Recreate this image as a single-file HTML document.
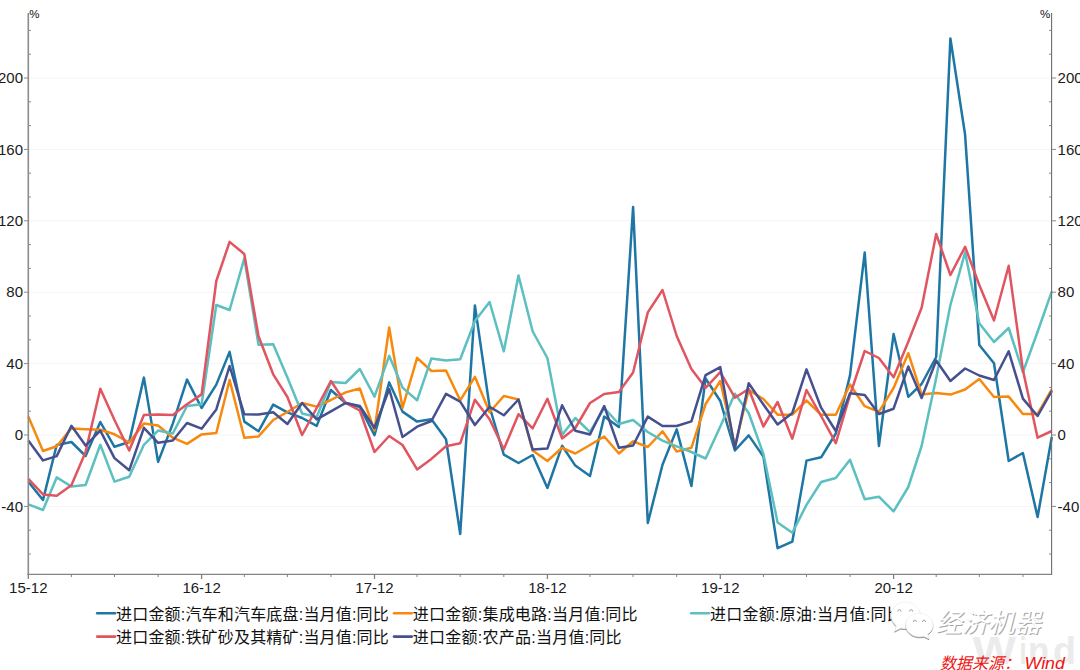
<!DOCTYPE html>
<html lang="zh"><head><meta charset="utf-8"><title>进口金额 当月值 同比</title>
<style>html,body{margin:0;padding:0;background:#fff}body{width:1080px;height:670px;overflow:hidden}svg{display:block}.n{font-family:"Liberation Sans",sans-serif;font-size:15px;fill:#1a1a1a}.p{font-family:"Liberation Sans",sans-serif;font-size:11.5px;fill:#111}.lg{font-family:"Liberation Sans","Noto Sans CJK SC",sans-serif;font-size:16px;fill:#111}.ln{fill:none;stroke-width:2.5;stroke-linejoin:round;stroke-linecap:butt}</style></head><body>
<svg width="1080" height="670" viewBox="0 0 1080 670">
<rect width="1080" height="670" fill="#fff"/>
<line x1="29" x2="1051" y1="78.0" y2="78.0" stroke="#f4f4f4" stroke-width="1"/>
<line x1="29" x2="1051" y1="149.4" y2="149.4" stroke="#f4f4f4" stroke-width="1"/>
<line x1="29" x2="1051" y1="220.8" y2="220.8" stroke="#f4f4f4" stroke-width="1"/>
<line x1="29" x2="1051" y1="292.2" y2="292.2" stroke="#f4f4f4" stroke-width="1"/>
<line x1="29" x2="1051" y1="363.6" y2="363.6" stroke="#f4f4f4" stroke-width="1"/>
<line x1="29" x2="1051" y1="435.0" y2="435.0" stroke="#f4f4f4" stroke-width="1"/>
<line x1="29" x2="1051" y1="506.4" y2="506.4" stroke="#f4f4f4" stroke-width="1"/>
<path class="ln" stroke="#1e76a4" d="M28.3 481.7 L43.0 500.0 L56.7 444.9 L71.4 442.0 L85.6 456.0 L100.3 422.0 L114.5 446.8 L129.2 442.0 L143.9 377.6 L158.1 461.9 L172.8 423.6 L187.0 379.6 L201.6 408.0 L216.3 384.6 L229.6 351.9 L244.3 421.6 L258.5 431.3 L273.2 404.6 L287.4 412.3 L302.1 418.0 L316.7 425.9 L330.9 390.0 L345.6 403.0 L359.8 407.0 L374.5 435.2 L389.2 382.4 L402.5 411.6 L417.1 421.6 L431.4 419.3 L446.0 439.3 L460.2 534.0 L474.9 305.4 L489.6 407.0 L503.8 454.6 L518.5 463.0 L532.7 455.0 L547.4 488.0 L562.1 445.8 L575.3 465.6 L590.0 476.0 L604.2 416.6 L618.9 427.0 L633.1 207.0 L647.8 523.0 L662.5 464.8 L676.7 429.4 L691.4 486.0 L705.6 378.5 L720.3 401.0 L734.9 450.5 L748.7 435.4 L763.4 456.6 L777.6 548.2 L792.3 541.7 L806.5 460.6 L821.1 457.3 L835.8 433.5 L850.0 375.4 L864.7 252.6 L878.9 446.0 L893.6 334.0 L908.3 396.8 L921.6 384.0 L936.2 357.0 L950.4 38.4 L965.1 134.8 L979.3 345.0 L994.0 363.2 L1008.7 461.0 L1022.9 453.0 L1037.6 517.0 L1051.8 437.0"/>
<path class="ln" stroke="#f7890f" d="M28.3 416.5 L43.0 451.0 L56.7 446.2 L71.4 428.4 L85.6 429.2 L100.3 429.8 L114.5 434.3 L129.2 442.5 L143.9 423.5 L158.1 425.5 L172.8 437.7 L187.0 443.9 L201.6 434.4 L216.3 433.0 L229.6 380.0 L244.3 437.8 L258.5 436.4 L273.2 420.0 L287.4 412.0 L302.1 403.0 L316.7 406.6 L330.9 400.0 L345.6 392.4 L359.8 388.5 L374.5 430.3 L389.2 327.5 L402.5 408.0 L417.1 357.8 L431.4 371.0 L446.0 370.5 L460.2 400.3 L474.9 376.8 L489.6 412.2 L503.8 396.0 L518.5 399.5 L532.7 450.6 L547.4 461.0 L562.1 447.8 L575.3 453.5 L590.0 445.0 L604.2 436.5 L618.9 453.5 L633.1 441.3 L647.8 447.0 L662.5 431.3 L676.7 451.5 L691.4 447.8 L705.6 404.0 L720.3 381.0 L734.9 446.0 L748.7 390.0 L763.4 399.0 L777.6 414.7 L792.3 414.7 L806.5 400.5 L821.1 414.8 L835.8 414.7 L850.0 384.5 L864.7 406.2 L878.9 411.8 L893.6 388.0 L908.3 353.2 L921.6 394.4 L936.2 393.0 L950.4 394.6 L965.1 389.5 L979.3 379.0 L994.0 397.0 L1008.7 396.6 L1022.9 414.0 L1037.6 414.0 L1051.8 389.5"/>
<path class="ln" stroke="#5cbfc0" d="M28.3 504.3 L43.0 510.0 L56.7 477.4 L71.4 486.5 L85.6 485.0 L100.3 444.8 L114.5 481.6 L129.2 476.8 L143.9 444.8 L158.1 430.6 L172.8 433.5 L187.0 406.0 L201.6 404.3 L216.3 305.0 L229.6 310.0 L244.3 258.3 L258.5 344.8 L273.2 344.2 L287.4 377.4 L302.1 413.5 L316.7 417.0 L330.9 382.0 L345.6 383.0 L359.8 369.0 L374.5 396.6 L389.2 355.8 L402.5 387.6 L417.1 400.3 L431.4 358.4 L446.0 360.6 L460.2 359.2 L474.9 321.0 L489.6 302.0 L503.8 351.3 L518.5 275.6 L532.7 331.5 L547.4 358.0 L562.1 435.0 L575.3 418.0 L590.0 432.0 L604.2 408.0 L618.9 424.0 L633.1 420.0 L647.8 432.0 L662.5 440.7 L676.7 446.4 L691.4 452.0 L705.6 458.5 L720.3 426.5 L734.9 393.7 L748.7 413.0 L763.4 454.0 L777.6 522.4 L792.3 532.7 L806.5 504.9 L821.1 482.0 L835.8 478.0 L850.0 459.7 L864.7 499.2 L878.9 496.7 L893.6 511.4 L908.3 487.0 L921.6 446.0 L936.2 378.0 L950.4 305.0 L965.1 252.4 L979.3 323.3 L994.0 342.0 L1008.7 328.0 L1022.9 372.2 L1037.6 331.8 L1051.8 291.3"/>
<path class="ln" stroke="#e0555f" d="M28.3 478.8 L43.0 494.4 L56.7 495.8 L71.4 485.3 L85.6 451.9 L100.3 388.7 L114.5 420.0 L129.2 450.5 L143.9 415.0 L158.1 414.5 L172.8 415.0 L187.0 404.3 L201.6 394.4 L216.3 281.0 L229.6 241.9 L244.3 254.0 L258.5 336.3 L273.2 374.3 L287.4 397.0 L302.1 435.0 L316.7 408.0 L330.9 381.0 L345.6 403.0 L359.8 410.5 L374.5 452.0 L389.2 436.0 L402.5 445.0 L417.1 469.4 L431.4 458.9 L446.0 446.2 L460.2 443.3 L474.9 399.7 L489.6 419.3 L503.8 449.3 L518.5 414.2 L532.7 428.3 L547.4 398.8 L562.1 438.4 L575.3 428.0 L590.0 403.0 L604.2 394.0 L618.9 392.0 L633.1 372.5 L647.8 312.4 L662.5 290.0 L676.7 336.0 L691.4 369.0 L705.6 387.8 L720.3 372.2 L734.9 397.7 L748.7 389.0 L763.4 426.5 L777.6 402.0 L792.3 438.7 L806.5 390.0 L821.1 416.0 L835.8 443.2 L850.0 395.0 L864.7 351.0 L878.9 358.0 L893.6 377.2 L908.3 341.7 L921.6 307.7 L936.2 234.0 L950.4 275.0 L965.1 246.8 L979.3 285.0 L994.0 320.5 L1008.7 265.8 L1022.9 370.0 L1037.6 437.7 L1051.8 431.0"/>
<path class="ln" stroke="#46508f" d="M28.3 440.5 L43.0 460.4 L56.7 456.1 L71.4 425.8 L85.6 445.6 L100.3 430.6 L114.5 458.1 L129.2 470.3 L143.9 427.8 L158.1 442.8 L172.8 440.5 L187.0 423.0 L201.6 428.7 L216.3 409.4 L229.6 366.0 L244.3 414.3 L258.5 414.5 L273.2 412.3 L287.4 424.0 L302.1 403.0 L316.7 419.4 L330.9 411.4 L345.6 403.0 L359.8 406.0 L374.5 428.0 L389.2 389.0 L402.5 437.0 L417.1 426.7 L431.4 421.0 L446.0 393.8 L460.2 401.7 L474.9 425.0 L489.6 406.8 L503.8 415.3 L518.5 399.5 L532.7 449.6 L547.4 448.6 L562.1 405.3 L575.3 430.8 L590.0 434.5 L604.2 406.0 L618.9 447.8 L633.1 445.5 L647.8 416.6 L662.5 426.0 L676.7 426.0 L691.4 421.4 L705.6 375.2 L720.3 367.1 L734.9 448.5 L748.7 383.3 L763.4 404.5 L777.6 424.5 L792.3 413.0 L806.5 369.4 L821.1 407.7 L835.8 431.0 L850.0 393.3 L864.7 395.0 L878.9 414.0 L893.6 408.7 L908.3 366.5 L921.6 398.0 L936.2 360.5 L950.4 381.0 L965.1 368.5 L979.3 375.5 L994.0 380.0 L1008.7 351.3 L1022.9 398.6 L1037.6 416.0 L1051.8 391.0"/>
<line x1="28.3" x2="28.3" y1="13" y2="574.8" stroke="#8c8c8c" stroke-width="1.6"/>
<line x1="1051.6" x2="1051.6" y1="13" y2="574.8" stroke="#6e6e6e" stroke-width="1.1"/>
<line x1="27.5" x2="1052.2" y1="574.3" y2="574.3" stroke="#858585" stroke-width="1.3"/>
<line x1="29" x2="31" y1="554.0" y2="554.0" stroke="#8a8a8a" stroke-width="1"/>
<line x1="1049" x2="1051" y1="554.0" y2="554.0" stroke="#8a8a8a" stroke-width="1"/>
<line x1="29" x2="31" y1="530.2" y2="530.2" stroke="#8a8a8a" stroke-width="1"/>
<line x1="1049" x2="1051" y1="530.2" y2="530.2" stroke="#8a8a8a" stroke-width="1"/>
<line x1="24" x2="28" y1="506.4" y2="506.4" stroke="#8a8a8a" stroke-width="1"/>
<line x1="1052" x2="1056" y1="506.4" y2="506.4" stroke="#8a8a8a" stroke-width="1"/>
<line x1="29" x2="31" y1="482.6" y2="482.6" stroke="#8a8a8a" stroke-width="1"/>
<line x1="1049" x2="1051" y1="482.6" y2="482.6" stroke="#8a8a8a" stroke-width="1"/>
<line x1="29" x2="31" y1="458.8" y2="458.8" stroke="#8a8a8a" stroke-width="1"/>
<line x1="1049" x2="1051" y1="458.8" y2="458.8" stroke="#8a8a8a" stroke-width="1"/>
<line x1="24" x2="28" y1="435.0" y2="435.0" stroke="#8a8a8a" stroke-width="1"/>
<line x1="1052" x2="1056" y1="435.0" y2="435.0" stroke="#8a8a8a" stroke-width="1"/>
<line x1="29" x2="31" y1="411.2" y2="411.2" stroke="#8a8a8a" stroke-width="1"/>
<line x1="1049" x2="1051" y1="411.2" y2="411.2" stroke="#8a8a8a" stroke-width="1"/>
<line x1="29" x2="31" y1="387.4" y2="387.4" stroke="#8a8a8a" stroke-width="1"/>
<line x1="1049" x2="1051" y1="387.4" y2="387.4" stroke="#8a8a8a" stroke-width="1"/>
<line x1="24" x2="28" y1="363.6" y2="363.6" stroke="#8a8a8a" stroke-width="1"/>
<line x1="1052" x2="1056" y1="363.6" y2="363.6" stroke="#8a8a8a" stroke-width="1"/>
<line x1="29" x2="31" y1="339.8" y2="339.8" stroke="#8a8a8a" stroke-width="1"/>
<line x1="1049" x2="1051" y1="339.8" y2="339.8" stroke="#8a8a8a" stroke-width="1"/>
<line x1="29" x2="31" y1="316.0" y2="316.0" stroke="#8a8a8a" stroke-width="1"/>
<line x1="1049" x2="1051" y1="316.0" y2="316.0" stroke="#8a8a8a" stroke-width="1"/>
<line x1="24" x2="28" y1="292.2" y2="292.2" stroke="#8a8a8a" stroke-width="1"/>
<line x1="1052" x2="1056" y1="292.2" y2="292.2" stroke="#8a8a8a" stroke-width="1"/>
<line x1="29" x2="31" y1="268.4" y2="268.4" stroke="#8a8a8a" stroke-width="1"/>
<line x1="1049" x2="1051" y1="268.4" y2="268.4" stroke="#8a8a8a" stroke-width="1"/>
<line x1="29" x2="31" y1="244.6" y2="244.6" stroke="#8a8a8a" stroke-width="1"/>
<line x1="1049" x2="1051" y1="244.6" y2="244.6" stroke="#8a8a8a" stroke-width="1"/>
<line x1="24" x2="28" y1="220.8" y2="220.8" stroke="#8a8a8a" stroke-width="1"/>
<line x1="1052" x2="1056" y1="220.8" y2="220.8" stroke="#8a8a8a" stroke-width="1"/>
<line x1="29" x2="31" y1="197.0" y2="197.0" stroke="#8a8a8a" stroke-width="1"/>
<line x1="1049" x2="1051" y1="197.0" y2="197.0" stroke="#8a8a8a" stroke-width="1"/>
<line x1="29" x2="31" y1="173.2" y2="173.2" stroke="#8a8a8a" stroke-width="1"/>
<line x1="1049" x2="1051" y1="173.2" y2="173.2" stroke="#8a8a8a" stroke-width="1"/>
<line x1="24" x2="28" y1="149.4" y2="149.4" stroke="#8a8a8a" stroke-width="1"/>
<line x1="1052" x2="1056" y1="149.4" y2="149.4" stroke="#8a8a8a" stroke-width="1"/>
<line x1="29" x2="31" y1="125.6" y2="125.6" stroke="#8a8a8a" stroke-width="1"/>
<line x1="1049" x2="1051" y1="125.6" y2="125.6" stroke="#8a8a8a" stroke-width="1"/>
<line x1="29" x2="31" y1="101.8" y2="101.8" stroke="#8a8a8a" stroke-width="1"/>
<line x1="1049" x2="1051" y1="101.8" y2="101.8" stroke="#8a8a8a" stroke-width="1"/>
<line x1="24" x2="28" y1="78.0" y2="78.0" stroke="#8a8a8a" stroke-width="1"/>
<line x1="1052" x2="1056" y1="78.0" y2="78.0" stroke="#8a8a8a" stroke-width="1"/>
<line x1="29" x2="31" y1="54.2" y2="54.2" stroke="#8a8a8a" stroke-width="1"/>
<line x1="1049" x2="1051" y1="54.2" y2="54.2" stroke="#8a8a8a" stroke-width="1"/>
<line x1="29" x2="31" y1="30.4" y2="30.4" stroke="#8a8a8a" stroke-width="1"/>
<line x1="1049" x2="1051" y1="30.4" y2="30.4" stroke="#8a8a8a" stroke-width="1"/>
<text class="n" x="23" y="83.2" text-anchor="end">200</text>
<text class="n" x="1057.6" y="83.2">200</text>
<text class="n" x="23" y="154.6" text-anchor="end">160</text>
<text class="n" x="1057.6" y="154.6">160</text>
<text class="n" x="23" y="226.0" text-anchor="end">120</text>
<text class="n" x="1057.6" y="226.0">120</text>
<text class="n" x="23" y="297.4" text-anchor="end">80</text>
<text class="n" x="1057.6" y="297.4">80</text>
<text class="n" x="23" y="368.8" text-anchor="end">40</text>
<text class="n" x="1057.6" y="368.8">40</text>
<text class="n" x="23" y="440.2" text-anchor="end">0</text>
<text class="n" x="1057.6" y="440.2">0</text>
<text class="n" x="23" y="511.6" text-anchor="end">-40</text>
<text class="n" x="1057.6" y="511.6">-40</text>
<line x1="28.3" x2="28.3" y1="574" y2="579" stroke="#808080" stroke-width="1.3"/>
<line x1="71.4" x2="71.4" y1="574" y2="577" stroke="#808080" stroke-width="1"/>
<line x1="114.5" x2="114.5" y1="574" y2="577" stroke="#808080" stroke-width="1"/>
<line x1="158.1" x2="158.1" y1="574" y2="577" stroke="#808080" stroke-width="1"/>
<line x1="201.6" x2="201.6" y1="574" y2="579" stroke="#808080" stroke-width="1.3"/>
<line x1="244.3" x2="244.3" y1="574" y2="577" stroke="#808080" stroke-width="1"/>
<line x1="287.4" x2="287.4" y1="574" y2="577" stroke="#808080" stroke-width="1"/>
<line x1="330.9" x2="330.9" y1="574" y2="577" stroke="#808080" stroke-width="1"/>
<line x1="374.5" x2="374.5" y1="574" y2="579" stroke="#808080" stroke-width="1.3"/>
<line x1="417.1" x2="417.1" y1="574" y2="577" stroke="#808080" stroke-width="1"/>
<line x1="460.2" x2="460.2" y1="574" y2="577" stroke="#808080" stroke-width="1"/>
<line x1="503.8" x2="503.8" y1="574" y2="577" stroke="#808080" stroke-width="1"/>
<line x1="547.4" x2="547.4" y1="574" y2="579" stroke="#808080" stroke-width="1.3"/>
<line x1="590.0" x2="590.0" y1="574" y2="577" stroke="#808080" stroke-width="1"/>
<line x1="633.1" x2="633.1" y1="574" y2="577" stroke="#808080" stroke-width="1"/>
<line x1="676.7" x2="676.7" y1="574" y2="577" stroke="#808080" stroke-width="1"/>
<line x1="720.3" x2="720.3" y1="574" y2="579" stroke="#808080" stroke-width="1.3"/>
<line x1="763.4" x2="763.4" y1="574" y2="577" stroke="#808080" stroke-width="1"/>
<line x1="806.5" x2="806.5" y1="574" y2="577" stroke="#808080" stroke-width="1"/>
<line x1="850.0" x2="850.0" y1="574" y2="577" stroke="#808080" stroke-width="1"/>
<line x1="893.6" x2="893.6" y1="574" y2="579" stroke="#808080" stroke-width="1.3"/>
<line x1="936.2" x2="936.2" y1="574" y2="577" stroke="#808080" stroke-width="1"/>
<line x1="979.3" x2="979.3" y1="574" y2="577" stroke="#808080" stroke-width="1"/>
<line x1="1022.9" x2="1022.9" y1="574" y2="577" stroke="#808080" stroke-width="1"/>
<text class="n" x="28.3" y="593.2" text-anchor="middle">15-12</text>
<text class="n" x="201.6" y="593.2" text-anchor="middle">16-12</text>
<text class="n" x="374.5" y="593.2" text-anchor="middle">17-12</text>
<text class="n" x="547.4" y="593.2" text-anchor="middle">18-12</text>
<text class="n" x="720.3" y="593.2" text-anchor="middle">19-12</text>
<text class="n" x="893.6" y="593.2" text-anchor="middle">20-12</text>
<text class="p" x="29.3" y="18.3">%</text>
<text class="p" x="1050.2" y="18.3" text-anchor="end">%</text>
<line x1="97.2" x2="115" y1="613.3" y2="613.3" stroke="#1e76a4" stroke-width="2.6" stroke-linecap="round"/>
<text class="lg" x="116.0" y="619.5" textLength="272.8" lengthAdjust="spacing">进口金额:汽车和汽车底盘:当月值:同比</text>
<line x1="394.0" x2="411.8" y1="613.3" y2="613.3" stroke="#f7890f" stroke-width="2.6" stroke-linecap="round"/>
<text class="lg" x="412.8" y="619.5" textLength="224.8" lengthAdjust="spacing">进口金额:集成电路:当月值:同比</text>
<line x1="691.2" x2="709" y1="613.3" y2="613.3" stroke="#5cbfc0" stroke-width="2.6" stroke-linecap="round"/>
<text class="lg" x="710.0" y="619.5" textLength="192.8" lengthAdjust="spacing">进口金额:原油:当月值:同比</text>
<line x1="97.2" x2="115" y1="636.6" y2="636.6" stroke="#e0555f" stroke-width="2.6" stroke-linecap="round"/>
<text class="lg" x="116.0" y="642.8" textLength="272.8" lengthAdjust="spacing">进口金额:铁矿砂及其精矿:当月值:同比</text>
<line x1="394.0" x2="411.8" y1="636.6" y2="636.6" stroke="#46508f" stroke-width="2.6" stroke-linecap="round"/>
<text class="lg" x="412.8" y="642.8" textLength="208.8" lengthAdjust="spacing">进口金额:农产品:当月值:同比</text>
<g font-family="Liberation Sans,sans-serif" font-weight="bold" font-size="38.5" fill="#ebebeb"><text x="972.5" y="664.3" textLength="43.5" lengthAdjust="spacingAndGlyphs">W</text><text x="1019.6" y="664.3" textLength="7" lengthAdjust="spacingAndGlyphs">i</text><text x="1028" y="664.3" textLength="21.5" lengthAdjust="spacingAndGlyphs">n</text><text x="1053" y="664.3" textLength="23" lengthAdjust="spacingAndGlyphs">d</text></g>
<defs><filter id="sh" x="-20%" y="-20%" width="140%" height="150%"><feGaussianBlur in="SourceAlpha" stdDeviation="0.7"/><feOffset dx="-0.3" dy="1.1" result="b"/><feFlood flood-color="#4a4a4a" flood-opacity="0.75"/><feComposite in2="b" operator="in"/><feMerge><feMergeNode/><feMergeNode in="SourceGraphic"/></feMerge></filter></defs>
<g id="wm">
<g fill="#fff" stroke="#ececec" stroke-width="0.6" filter="url(#sh)">
<path d="M905.8 602c-8.1 0-14.7 6-14.7 13.500 0 4.200 2.100 7.900 5.400 10.400l-2 5.300 6.300-3.200c1.600 0.500 3.300 0.700 5 0.700 8.100 0 14.700-5.900 14.700-13.200s-6.600-13.500-14.700-13.500z"/>
</g>
<g fill="#fff" stroke="#ececec" stroke-width="0.6" filter="url(#sh)">
<path d="M919.400 613.200c-7.500 0-13.600 5.300-13.600 11.800s6.100 11.800 13.600 11.800c1.500 0 3-0.200 4.300-0.600l5.300 2.600-1.500-4.600c3.300-2.100 5.500-5.400 5.500-9.200 0-6.500-6.100-11.800-13.600-11.800z"/>
</g>
<g fill="none" stroke="#9a9a9a" stroke-width="0.9" stroke-linecap="round"><path d="M897.900 611.200a1.600 1.600 0 0 1 3.200 0"/><path d="M909.600 611.200a1.600 1.600 0 0 1 3.200 0"/><path d="M913.300 621.600a1.500 1.500 0 0 1 3 0"/><path d="M922.500 621.600a1.500 1.500 0 0 1 3 0"/></g>
<text x="936.4" y="632.7" font-family="Liberation Sans,Noto Sans CJK SC,sans-serif" font-size="26.3" font-style="italic" fill="#a6a6a6">经济机器</text>
<text x="935.4" y="631.7" font-family="Liberation Sans,Noto Sans CJK SC,sans-serif" font-size="26.3" font-style="italic" fill="#fff">经济机器</text>
</g>
<text x="940" y="668.800" font-family="Liberation Sans,Noto Sans CJK SC,sans-serif" font-size="16" font-style="italic" fill="#f01414">数据来源：</text>
<text x="1024.500" y="668.800" font-family="Liberation Sans,sans-serif" font-size="16.5" font-style="italic" fill="#f01414" textLength="40.4" lengthAdjust="spacingAndGlyphs">Wind</text>
</svg></body></html>
